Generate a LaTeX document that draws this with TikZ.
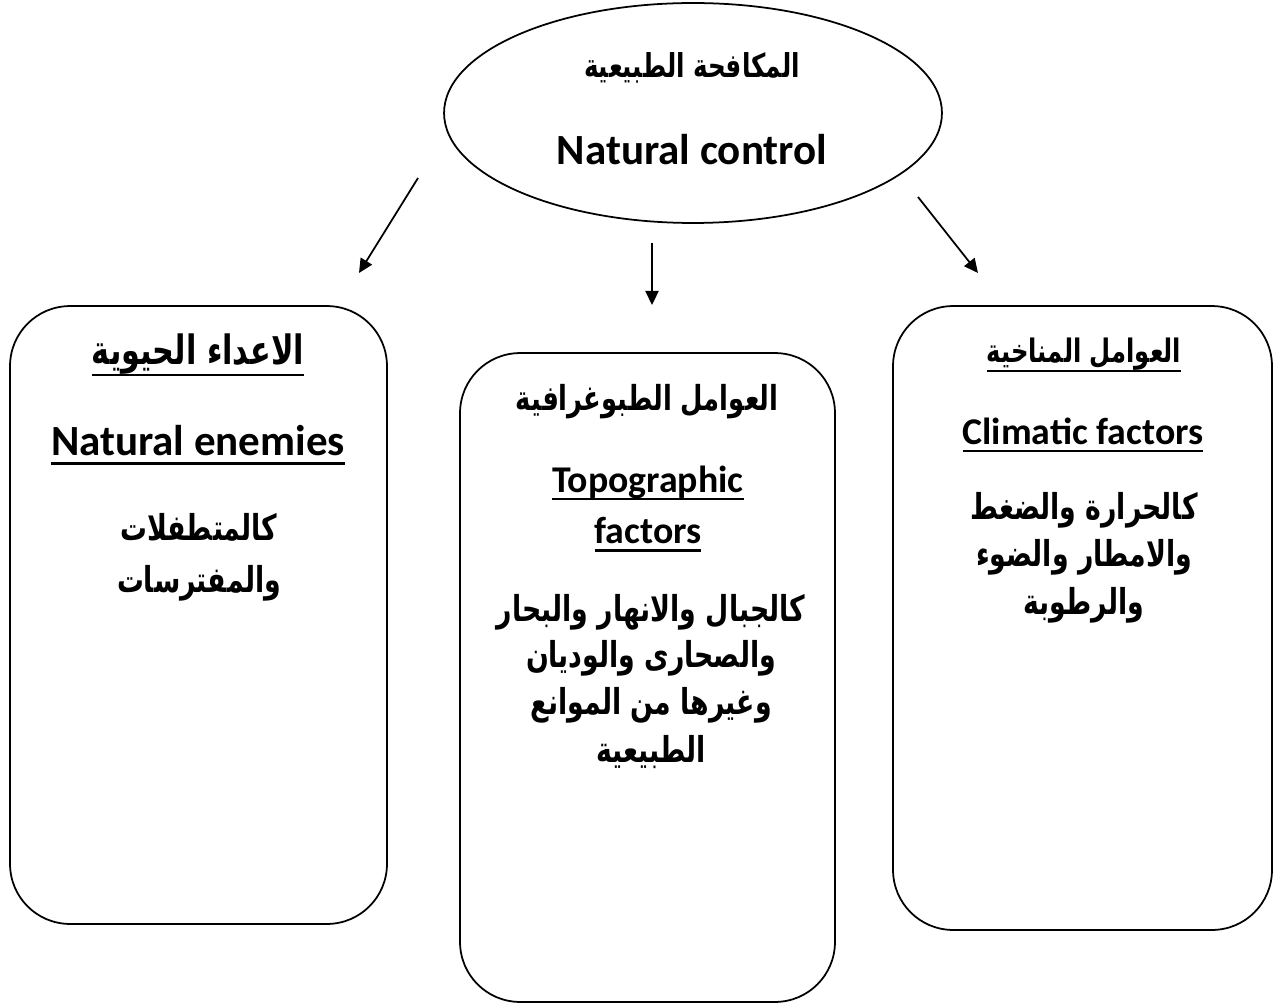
\documentclass[tikz,border=0pt]{standalone}
\usepackage{fontspec}
\setmainfont{Carlito}
\newfontfamily\arabicfont[Script=Arabic,FakeStretch=0.75]{DejaVu Sans}
\TeXXeTstate=1
\usetikzlibrary{shapes.geometric,arrows.meta}
\newcommand\myul[1]{\setbox0=\hbox{#1}\leavevmode\rlap{\rule[-0.22em]{\wd0}{0.075em}}\box0}
\newcommand\myula[1]{\setbox0=\hbox{#1}\leavevmode\rlap{\rule[-0.3em]{\wd0}{0.065em}}\box0}
\newcommand\ar[1]{\arabicfont\bfseries\beginR #1\endR}
\begin{document}
\begin{tikzpicture}[x=0.02cm,y=-0.02cm,
  frame/.style={draw,line width=1pt,rounded corners=1.2cm,inner sep=0pt},
  enbig/.style={font=\fontsize{24.5}{28}\selectfont\bfseries,inner sep=0pt},
  en/.style={font=\fontsize{21.5}{25}\selectfont\bfseries,inner sep=0pt},
  arb/.style={font=\fontsize{20.3}{24}\selectfont,inner sep=0pt},
  link/.style={line width=1pt,-{Triangle[length=8pt,width=7.5pt]}}]
\useasboundingbox (0,0) rectangle (1283,1006);
% ellipse
\node[ellipse,draw,line width=1pt,minimum width=9.96cm,minimum height=4.4cm,inner sep=0pt] (ctl) at (693,113) {};
\node[font=\fontsize{18.7}{22}\selectfont,inner sep=0pt] (ctlar) at (692,68) {\ar{المكافحة الطبيعية}};
\node[enbig] (ctlen) at (692,150) {Natural control};
% boxes
\node[frame,minimum width=7.54cm,minimum height=12.36cm] (bio) at (198.5,615) {};
\node[frame,minimum width=7.5cm,minimum height=12.98cm] (topo) at (647.5,677.5) {};
\node[frame,minimum width=7.58cm,minimum height=12.48cm] (clim) at (1082.5,618) {};
% arrows
\coordinate (a1s) at (418,178); \coordinate (a1e) at (359,273);
\coordinate (a2s) at (652,243); \coordinate (a2e) at (652,305);
\coordinate (a3s) at (918,197); \coordinate (a3e) at (978,273);
\draw[link] (a1s) -- (a1e);
\draw[link] (a2s) -- (a2e);
\draw[link] (a3s) -- (a3e);
% left box text
\node[font=\fontsize{23}{27}\selectfont,inner sep=0pt] (bio1) at (198,355) {\myula{\ar{الاعداء الحيوية}}};
\node[enbig] (bio2) at (198,445) {\myul{Natural enemies}};
\node[arb] (bio3) at (199,527) {\ar{كالمتطفلات}};
\node[arb] (bio4) at (199,583) {\ar{والمفترسات}};
% middle box text
\node[font=\fontsize{19.6}{23}\selectfont,inner sep=0pt] (topo1) at (647,402) {\ar{العوامل الطبوغرافية}};
\node[en] (topo2) at (648,483) {\myul{Topographic}};
\node[en] (topo3) at (648,535) {\myul{factors}};
\node[arb] (topo4) at (651,612) {\ar{كالجبال والانهار والبحار}};
\node[arb] (topo5) at (651,658) {\ar{والصحارى والوديان}};
\node[arb] (topo6) at (651,705) {\ar{وغيرها من الموانع}};
\node[arb] (topo7) at (651,752) {\ar{الطبيعية}};
% right box text
\node[font=\fontsize{18.4}{22}\selectfont,inner sep=0pt] (clim1) at (1084,355) {\myula{\ar{العوامل المناخية}}};
\node[en] (clim2) at (1083,435) {\myul{Climatic factors}};
\node[arb] (clim3) at (1084,510) {\ar{كالحرارة والضغط}};
\node[arb] (clim4) at (1084,557) {\ar{والامطار والضوء}};
\node[arb] (clim5) at (1084,605) {\ar{والرطوبة}};
\end{tikzpicture}
\end{document}
